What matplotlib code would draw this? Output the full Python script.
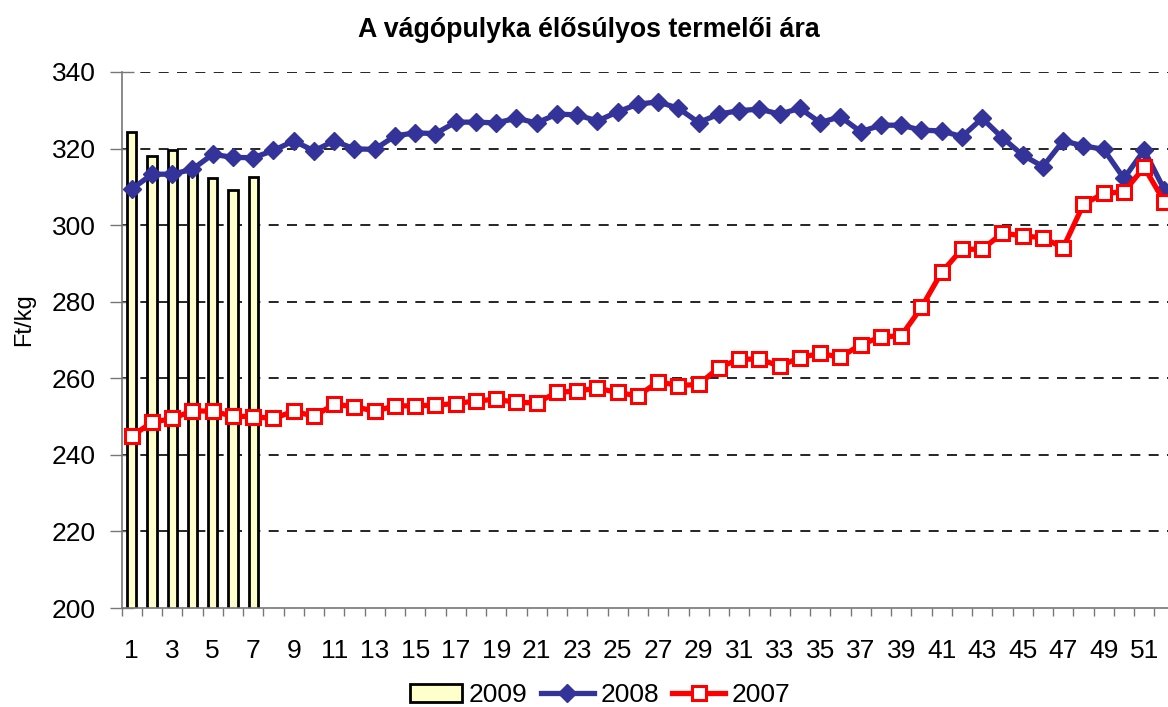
import numpy as np
import matplotlib
matplotlib.use("Agg")
import matplotlib.pyplot as plt
from matplotlib.ticker import FixedLocator, NullFormatter, FixedFormatter

plt.rcParams['font.family'] = ['Liberation Sans', 'DejaVu Sans']

# weeks
weeks = list(range(1, 53))

# 2009 (bars, first 7 weeks only)
weeks_2009 = [1, 2, 3, 4, 5, 6, 7]
price_2009 = [324.2, 318.0, 319.7, 315.0, 312.4, 309.3, 312.5]

# 2008
price_2008 = [309.4, 313.3, 313.3, 314.6, 318.5, 317.7, 317.6, 319.5, 322.0, 319.4,
              322.0, 319.9, 319.8, 323.3, 324.1, 323.9, 326.9, 326.9, 326.7, 327.9,
              326.7, 329.0, 328.8, 327.2, 329.6, 331.6, 332.2, 330.5, 326.8, 329.0,
              329.9, 330.3, 329.0, 330.5, 326.8, 328.3, 324.4, 326.1, 326.1, 324.8,
              324.6, 323.1, 327.9, 322.8, 318.3, 315.3, 322.0, 320.7, 319.8, 312.2,
              319.6, 309.2]

# 2007
price_2007 = [244.9, 248.5, 249.5, 251.5, 251.4, 250.1, 250.0, 249.5, 251.4, 250.1,
              253.2, 252.6, 251.4, 252.8, 252.8, 253.0, 253.4, 254.1, 254.5, 253.7,
              253.6, 256.3, 256.7, 257.4, 256.3, 255.4, 259.1, 258.1, 258.4, 262.8,
              265.0, 265.0, 263.2, 265.4, 266.5, 265.5, 268.8, 270.8, 271.1, 278.5,
              287.7, 293.7, 293.7, 297.9, 297.2, 296.7, 294.1, 305.4, 308.3, 308.7,
              315.1, 306.1]

fig = plt.figure(figsize=(11.68, 7.07), dpi=100)
ax = fig.add_axes([0.1041, 0.1400, 0.9015, 0.7582])

b = ax.bar(weeks_2009, price_2009, width=0.45, color='#FFFFCC', edgecolor='black',
           linewidth=2, label='2009', zorder=2)
l8, = ax.plot(weeks, price_2008, color='#333399', lw=3.8, marker='D', ms=9.5,
              label='2008', zorder=3)
l7, = ax.plot(weeks, price_2007, color='#FF0000', lw=3.8, marker='s', ms=10.5,
              mfc='white', mec='#FF0000', mew=2.2, label='2007', zorder=4)

ax.set_xlim(0.5, 52.5)
ax.set_ylim(200, 340)
ax.set_yticks(range(200, 341, 20))
for v in range(220, 341, 20):
    ax.axhline(v, color='black', lw=1.2, ls=(0, (6, 5)), zorder=1)

# x: tick marks on category boundaries, labels on odd weeks
ax.xaxis.set_major_locator(FixedLocator(np.arange(0.5, 53, 1.0)))
ax.xaxis.set_major_formatter(NullFormatter())
ax.xaxis.set_minor_locator(FixedLocator(weeks[::2]))
ax.xaxis.set_minor_formatter(FixedFormatter([str(w) for w in weeks[::2]]))
ax.tick_params(axis='x', which='major', direction='out', length=6, width=1, color='#777777')
ax.tick_params(axis='x', which='minor', length=0, pad=22, labelsize=19)
ax.tick_params(axis='y', direction='inout', length=17, width=1, color='#777777',
               pad=10, labelsize=19)

for s in ['top', 'right']:
    ax.spines[s].set_visible(False)
for s in ['left', 'bottom']:
    ax.spines[s].set_color('#777777')
    ax.spines[s].set_linewidth(1.2)

fig.text(589 / 1168, 1 - 37 / 707, 'A vágópulyka élősúlyos termelői ára',
         ha='center', va='baseline', fontsize=19.3, fontweight='bold')
fig.text(24 / 1168, 1 - 320 / 707, 'Ft/kg', rotation=90, ha='center', va='center',
         fontsize=17)

fig.legend([b, l8, l7], ['2009', '2008', '2007'], loc='center',
           bbox_to_anchor=(600 / 1168, 1 - 695 / 707), ncol=3,
           frameon=False, fontsize=19, handlelength=2.0, handletextpad=0.25,
           columnspacing=0.5, borderaxespad=0, borderpad=0)

fig.savefig('out.png', dpi=100)
